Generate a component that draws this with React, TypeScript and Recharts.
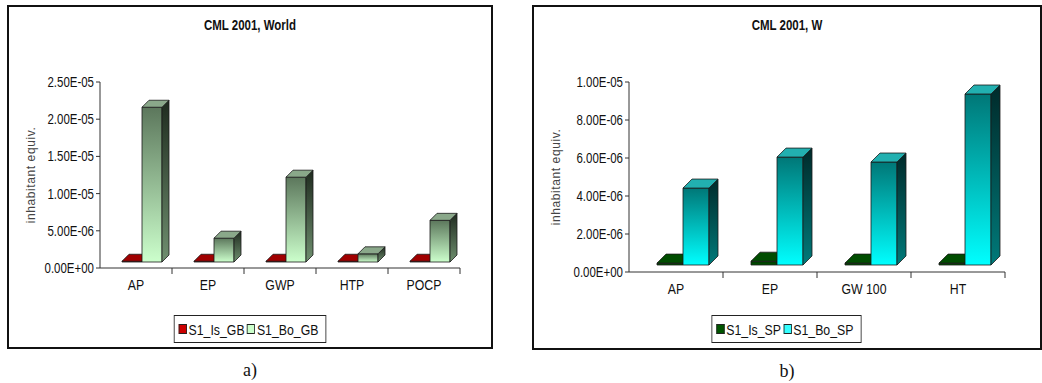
import React from 'react';
import { BarChart, Bar, XAxis, YAxis } from 'recharts';

// Panel a) CML 2001, World
const worldCategories = ['AP', 'EP', 'GWP', 'HTP', 'POCP'];
const worldIsGB = [1e-7, 1e-7, 1e-7, 1e-7, 1e-7];
const worldBoGB = [2.08e-5, 3.2e-6, 1.14e-5, 1.1e-6, 5.6e-6];
const worldTicks = [0, 5e-6, 1e-5, 1.5e-5, 2e-5, 2.5e-5];

// Panel b) CML 2001, W
const wCategories = ['AP', 'EP', 'GW 100', 'HT'];
const wIsSP = [1e-7, 2e-7, 1e-7, 1e-7];
const wBoSP = [4.05e-6, 5.68e-6, 5.42e-6, 9.0e-6];
const wTicks = [0, 2e-6, 4e-6, 6e-6, 8e-6, 1e-5];

const worldData = worldCategories.map((name, i) => ({ name, is: worldIsGB[i], bo: worldBoGB[i] }));
const wData = wCategories.map((name, i) => ({ name, is: wIsSP[i], bo: wBoSP[i] }));

const SANS = "'Liberation Sans', Arial, sans-serif";
const SQUEEZE = 0.82; // narrow look for the sans labels

const fmtSci = (v: number) => {
  if (v === 0) return '0.00E+00';
  const exp = Math.floor(Math.log10(Math.abs(v)) + 1e-9);
  const mant = v / Math.pow(10, exp);
  const sign = exp < 0 ? '-' : '+';
  return `${mant.toFixed(2)}E${sign}${String(Math.abs(exp)).padStart(2, '0')}`;
};

interface Faces {
  front: string;
  side: string;
  top: string;
}

// column drawn as a box: front face shifted into the depth, plus top and side faces
const box3D = (faces: Faces, ox: number, d: number) => (props: any) => {
  const { x, y, width, height } = props;
  const fx = x + ox;
  const fy = y - ox;
  const h = Math.max(height, 0);
  const w = width;
  return (
    <g stroke="#1a1a1a" strokeWidth={0.8} strokeLinejoin="round">
      <rect x={fx} y={fy} width={w} height={h} fill={faces.front} />
      <polygon
        points={`${fx + w},${fy} ${fx + w + d},${fy - d} ${fx + w + d},${fy + h - d} ${fx + w},${fy + h}`}
        fill={faces.side}
      />
      <polygon
        points={`${fx},${fy} ${fx + d},${fy - d} ${fx + w + d},${fy - d} ${fx + w},${fy}`}
        fill={faces.top}
      />
    </g>
  );
};

const makeXTick = (band: number) => (props: any) => {
  const { x, y, payload } = props;
  return (
    <g>
      <line x1={x + band / 2} y1={y - 8} x2={x + band / 2} y2={y - 2} stroke="#333" />
      <text
        transform={`translate(${x},${y + 14}) scale(${SQUEEZE},1)`}
        textAnchor="middle"
        fontFamily={SANS}
        fontSize={15}
        fill="#111"
      >
        {payload.value}
      </text>
    </g>
  );
};

const YTick = (props: any) => {
  const { x, y, payload } = props;
  return (
    <text
      transform={`translate(${x},${y + 5}) scale(${SQUEEZE},1)`}
      textAnchor="end"
      fontFamily={SANS}
      fontSize={14}
      fill="#111"
    >
      {fmtSci(payload.value)}
    </text>
  );
};

const LegendBox: React.FC<{ items: { label: string; color: string }[]; top: number; width: number }> = ({
  items,
  top,
  width,
}) => (
  <div style={{ position: 'absolute', left: 0, top, width, display: 'flex', justifyContent: 'center' }}>
    <div
      style={{
        display: 'inline-flex',
        alignItems: 'center',
        height: 28,
        boxSizing: 'border-box',
        border: '1px solid #222',
        padding: '0 6px 0 5px',
        fontFamily: SANS,
        fontSize: 15,
        color: '#111',
        background: '#fff',
        transform: `scaleX(${SQUEEZE})`,
      }}
    >
      {items.map((it) => (
        <span key={it.label} style={{ display: 'inline-flex', alignItems: 'center', marginRight: 3 }}>
          <span
            style={{
              display: 'inline-block',
              width: 8,
              height: 8,
              background: it.color,
              border: '1px solid #222',
              marginRight: 2,
            }}
          />
          {it.label}
        </span>
      ))}
    </div>
  </div>
);

const vGrad = (id: string, top: string, bottom: string) => (
  <linearGradient id={id} x1="0" y1="0" x2="0" y2="1">
    <stop offset="0%" stopColor={top} />
    <stop offset="100%" stopColor={bottom} />
  </linearGradient>
);

const Panel: React.FC<{
  left: number;
  width: number;
  height: number;
  title: string;
  data: any[];
  ticks: number[];
  band: number;
  barSize: number;
  ox: number;
  depth: number;
  plotRight: number;
  plotBottom: number;
  isFaces: Faces;
  boFaces: Faces;
  legend: { label: string; color: string }[];
  gradients: React.ReactNode;
  caption: string;
}> = (p) => {
  const yAxisWidth = p.width - p.plotRight - p.band * p.data.length;
  return (
    <div style={{ position: 'absolute', left: p.left, top: 5 }}>
      <div
        style={{
          position: 'absolute',
          left: 0,
          top: 0,
          width: p.width,
          height: p.height,
          boxSizing: 'border-box',
          border: '2px solid #111',
        }}
      />
      <div
        style={{
          position: 'absolute',
          left: 0,
          top: 12,
          width: p.width,
          textAlign: 'center',
          fontFamily: SANS,
          fontWeight: 'bold',
          fontSize: 14,
          color: '#111',
          transform: `scaleX(${SQUEEZE})`,
        }}
      >
        {p.title}
      </div>
      <BarChart
        width={p.width}
        height={p.height}
        data={p.data}
        barSize={p.barSize}
        barGap={0}
        margin={{ top: 77, right: p.plotRight, bottom: p.height - p.plotBottom - 30, left: 0 }}
      >
        <defs>{p.gradients}</defs>
        <YAxis
          width={yAxisWidth}
          domain={[p.ticks[0], p.ticks[p.ticks.length - 1]]}
          ticks={p.ticks}
          interval={0}
          axisLine={{ stroke: '#333' }}
          tickLine={{ stroke: '#333' }}
          tickSize={4}
          tick={<YTick />}
          label={{
            value: 'inhabitant equiv.',
            angle: -90,
            position: 'insideLeft',
            offset: 24,
            style: { fontFamily: SANS, fontSize: 12, fill: '#444', letterSpacing: 0.6, textAnchor: 'middle' },
          }}
        />
        <XAxis
          dataKey="name"
          height={30}
          axisLine={{ stroke: '#333' }}
          tickLine={false}
          interval={0}
          tick={makeXTick(p.band)}
        />
        <Bar dataKey="is" isAnimationActive={false} shape={box3D(p.isFaces, p.ox, p.depth)} />
        <Bar dataKey="bo" isAnimationActive={false} shape={box3D(p.boFaces, p.ox, p.depth)} />
      </BarChart>
      <LegendBox items={p.legend} top={310} width={p.width} />
      <div
        style={{
          position: 'absolute',
          left: 0,
          top: p.height + 11,
          width: p.width,
          textAlign: 'center',
          fontFamily: "'Liberation Serif', 'Times New Roman', serif",
          fontSize: 18,
          color: '#111',
        }}
      >
        {p.caption}
      </div>
    </div>
  );
};

export default function App() {
  return (
    <div style={{ position: 'absolute', left: 0, top: 0, width: 1042, height: 383, background: '#fff' }}>
      <Panel
        left={7}
        width={486}
        height={344}
        title="CML 2001, World"
        data={worldData}
        ticks={worldTicks}
        band={72}
        barSize={20}
        ox={6}
        depth={7}
        plotRight={33}
        plotBottom={263}
        gradients={
          <>
            {vGrad('aBoFront', '#5c775c', '#ccffcc')}
            {vGrad('aBoSide', '#1f2b1f', '#6f8f6f')}
            {vGrad('aIsFront', '#b00000', '#dd0000')}
          </>
        }
        isFaces={{ front: 'url(#aIsFront)', side: '#5a0000', top: '#a00000' }}
        boFaces={{ front: 'url(#aBoFront)', side: 'url(#aBoSide)', top: '#8aa88a' }}
        legend={[
          { label: 'S1_Is_GB', color: '#cc0000' },
          { label: 'S1_Bo_GB', color: '#ccffcc' },
        ]}
        caption="a)"
      />
      <Panel
        left={532}
        width={510}
        height={345}
        title="CML 2001, W"
        data={wData}
        ticks={wTicks}
        band={94}
        barSize={26}
        ox={7}
        depth={9}
        plotRight={37}
        plotBottom={267}
        gradients={
          <>
            {vGrad('bBoFront', '#007777', '#00ffff')}
            {vGrad('bBoSide', '#002a2a', '#007a7a')}
            {vGrad('bIsFront', '#003300', '#005500')}
          </>
        }
        isFaces={{ front: 'url(#bIsFront)', side: '#002200', top: '#004d00' }}
        boFaces={{ front: 'url(#bBoFront)', side: 'url(#bBoSide)', top: '#22b0b0' }}
        legend={[
          { label: 'S1_Is_SP', color: '#005500' },
          { label: 'S1_Bo_SP', color: '#33ffff' },
        ]}
        caption="b)"
      />
    </div>
  );
}
